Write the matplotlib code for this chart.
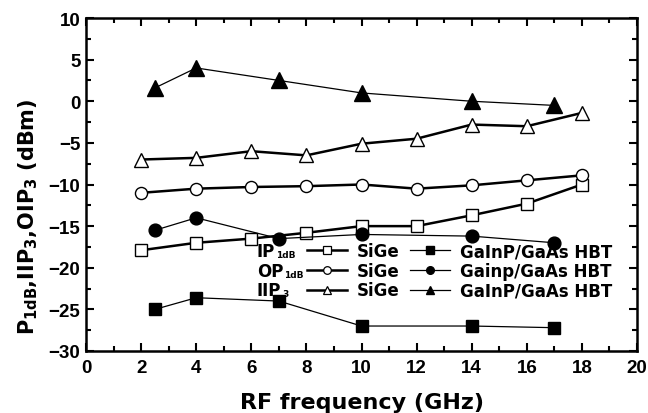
import matplotlib
matplotlib.use("Agg")
import matplotlib.pyplot as plt
from matplotlib.lines import Line2D
from matplotlib.ticker import MultipleLocator
from matplotlib.font_manager import FontProperties

plt.rcParams['font.family'] = ['DejaVu Sans']
plt.rcParams['font.weight'] = 'bold'
plt.rcParams['mathtext.fontset'] = 'dejavusans'
plt.rcParams['mathtext.default'] = 'bf'

# Data
freq_sige = [2, 4, 6, 8, 10, 12, 14, 16, 18]
ip1db_sige = [-17.9, -17.0, -16.5, -15.8, -15.0, -15.0, -13.7, -12.3, -10.0]
op1db_sige = [-11.0, -10.5, -10.3, -10.2, -10.0, -10.5, -10.1, -9.5, -8.9]
iip3_sige = [-7.0, -6.8, -6.0, -6.5, -5.1, -4.5, -2.8, -3.0, -1.4]

freq_gaas = [2.5, 4, 7, 10, 14, 17]
ip1db_gaas = [-25.0, -23.6, -24.0, -27.0, -27.0, -27.2]
op1db_gaas = [-15.5, -14.0, -16.5, -16.0, -16.2, -17.0]
iip3_gaas = [1.6, 4.0, 2.5, 1.0, 0.0, -0.5]

row_main = ['IP', 'OP', 'IIP']
row_sub = ['1dB', '1dB', '3']
sige_labels = ['SiGe', 'SiGe', 'SiGe']
gaas_labels = ['GaInP/GaAs HBT', 'Gainp/GaAs HBT', 'GaInP/GaAs HBT']
markers = ['s', 'o', '^']
marker_sizes = [8, 8.7, 10.5]

fig = plt.figure(figsize=(6.48, 4.14), dpi=100)
ax = fig.add_axes([86 / 648, (414 - 352) / 414, 551 / 648, 333 / 414])

lw_thick = 1.8
lw_thin = 0.9

sige_series = [ip1db_sige, op1db_sige, iip3_sige]
gaas_series = [ip1db_gaas, op1db_gaas, iip3_gaas]

sige_handles = []
gaas_handles = []
for m, s, ys in zip(markers, marker_sizes, sige_series):
    ax.plot(freq_sige, ys, color='black', lw=lw_thick, marker=m, ms=s,
            mfc='white', mec='black', mew=1.0, zorder=3)
    sige_handles.append(Line2D([], [], color='black', lw=lw_thick, marker=m,
                               ms=5.5, mfc='white', mec='black', mew=0.9))
for m, s, ys in zip(markers, marker_sizes, gaas_series):
    ax.plot(freq_gaas, ys, color='black', lw=lw_thin, marker=m, ms=s + 0.5,
            mfc='black', mec='black', zorder=3)
    gaas_handles.append(Line2D([], [], color='black', lw=lw_thin, marker=m,
                               ms=5.5, mfc='black', mec='black'))

ax.set_xlim(0, 20)
ax.set_ylim(-30, 10)
ax.xaxis.set_major_locator(MultipleLocator(2))
ax.xaxis.set_minor_locator(MultipleLocator(1))
ax.yaxis.set_major_locator(MultipleLocator(5))
ax.yaxis.set_minor_locator(MultipleLocator(2.5))
ax.tick_params(which='both', direction='in', top=True, right=True, width=1.5)
ax.tick_params(which='major', length=6)
ax.tick_params(which='minor', length=3.5)
ax.tick_params(axis='x', pad=6)
ax.tick_params(axis='y', pad=4)
for s in ax.spines.values():
    s.set_linewidth(1.8)
for lab in ax.get_xticklabels() + ax.get_yticklabels():
    lab.set_fontfamily('Liberation Sans')
    lab.set_fontweight('bold')
    lab.set_fontsize(13.5)

ax.set_xlabel('RF frequency (GHz)', fontsize=16, fontweight='bold', labelpad=11)
ax.set_ylabel(r'P$_{1dB}$,IIP$_3$,OIP$_3$ (dBm)', fontsize=15, fontweight='bold')
ax.yaxis.set_label_coords(-0.083, 0.405)

leg_fs = 12
leg = ax.legend(sige_handles + gaas_handles, sige_labels + gaas_labels, ncol=2,
                loc='lower left', bbox_to_anchor=(0.401, 0.155), frameon=False,
                fontsize=leg_fs, handlelength=2.4, handletextpad=0.6,
                columnspacing=0.6, labelspacing=0.1, borderpad=0,
                borderaxespad=0)
for t in leg.get_texts():
    t.set_fontweight('bold')

fig.canvas.draw()
renderer = fig.canvas.get_renderer()
fp = FontProperties(family='DejaVu Sans', weight='bold', size=leg_fs)
_, _, lp_desc = renderer.get_text_width_height_descent('lp', fp, ismath=False)
x_row = 86 + 0.310 * 551
for main, sub, h in zip(row_main, row_sub, leg.get_texts()[:3]):
    bb = h.get_window_extent(renderer)
    baseline_px = bb.y0 + lp_desc
    t = fig.text(x_row / 648, baseline_px / 414, main, fontsize=leg_fs,
                 fontweight='bold', va='baseline', ha='left')
    fig.canvas.draw()
    tb = t.get_window_extent(renderer)
    fig.text((tb.x1 + 1.0) / 648, (baseline_px - 1.0) / 414, sub, fontsize=6.5,
             fontweight='bold', va='baseline', ha='left')

fig.savefig('out.png', dpi=100)
